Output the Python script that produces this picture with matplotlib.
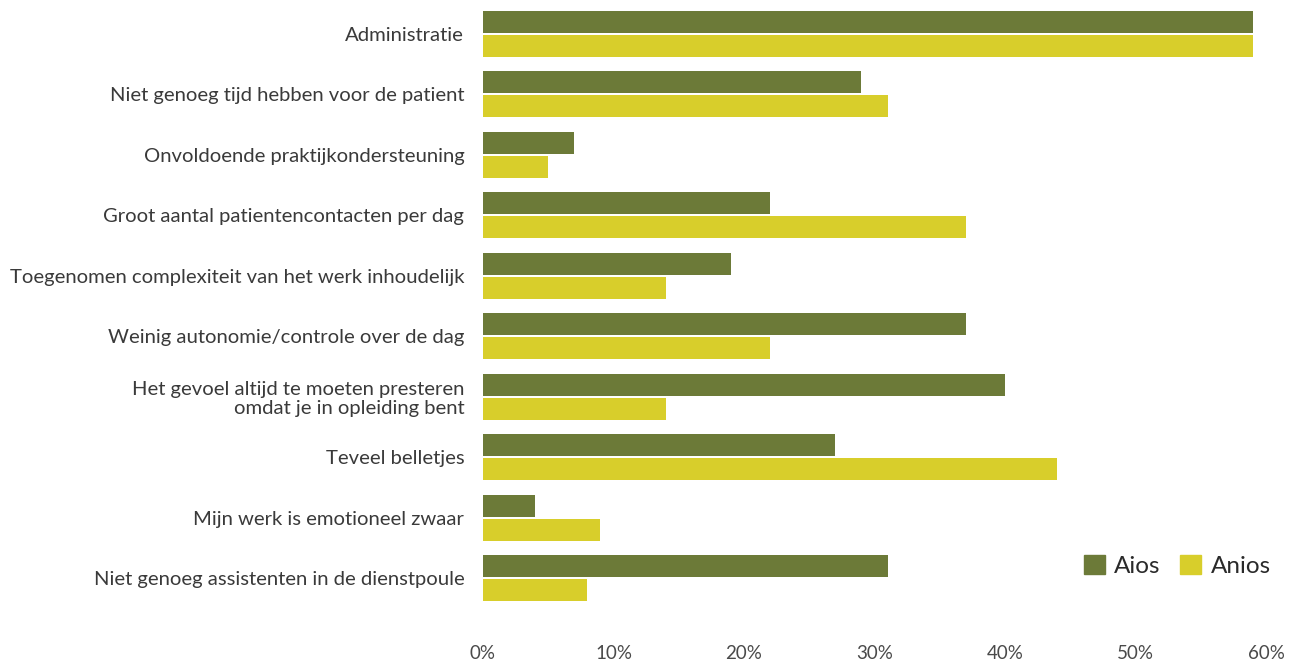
import matplotlib
matplotlib.use("Agg")
import matplotlib.pyplot as plt
from matplotlib.patches import Patch
import numpy as np

categories = [
    "Administratie",
    "Niet genoeg tijd hebben voor de patient",
    "Onvoldoende praktijkondersteuning",
    "Groot aantal patientencontacten per dag",
    "Toegenomen complexiteit van het werk inhoudelijk",
    "Weinig autonomie/controle over de dag",
    "Het gevoel altijd te moeten presteren\nomdat je in opleiding bent",
    "Teveel belletjes",
    "Mijn werk is emotioneel zwaar",
    "Niet genoeg assistenten in de dienstpoule",
]
aios = [59, 29, 7, 22, 19, 37, 40, 27, 4, 31]
anios = [59, 31, 5, 37, 14, 22, 14, 44, 9, 8]
xticks = [0, 10, 20, 30, 40, 50, 60]
xticklabels = ["0%", "10%", "20%", "30%", "40%", "50%", "60%"]

plt.rcParams['font.family'] = ['Lato', 'DejaVu Sans']

W, H = 1293, 664
fig = plt.figure(figsize=(W / 100, H / 100), dpi=100)
left = 483 / W
right = 1266 / W
bottom = (H - 601) / H
top = (H - 11) / H
ax = fig.add_axes([left, bottom, right - left, top - bottom])

c_aios = "#6C7A38"
c_anios = "#D8CE2B"
y = np.arange(len(categories))
off = 0.1985
h = 0.364
ax.barh(y - off, aios, height=h, color=c_aios, label="Aios")
ax.barh(y + off, anios, height=h, color=c_anios, label="Anios")

ax.set_xlim(0, 60)
ax.set_ylim(9 + off + h / 2, -off - h / 2)
ax.set_yticks(y)
ax.set_yticklabels(categories, fontsize=14.6, color="#3a3a3a", linespacing=1.1)
ax.set_xticks(xticks)
ax.set_xticklabels(xticklabels, fontsize=13.5, color="#4a4a4a")
ax.tick_params(axis='y', length=0, pad=13.5)
ax.tick_params(axis='x', length=0, pad=32)
for s in ax.spines.values():
    s.set_visible(False)

handles = [Patch(color=c_aios), Patch(color=c_anios)]
leg = fig.legend(handles, ["Aios", "Anios"], ncol=2, frameon=False,
                 loc="center left", bbox_to_anchor=(1084 / W, 1 - 566 / H),
                 prop={'size': 17.5},
                 handlelength=0.85, handleheight=0.85, handletextpad=0.4,
                 columnspacing=0.8, borderaxespad=0, borderpad=0)
for t in leg.get_texts():
    t.set_color("#2a2a2a")

fig.savefig("out.png", dpi=100)
